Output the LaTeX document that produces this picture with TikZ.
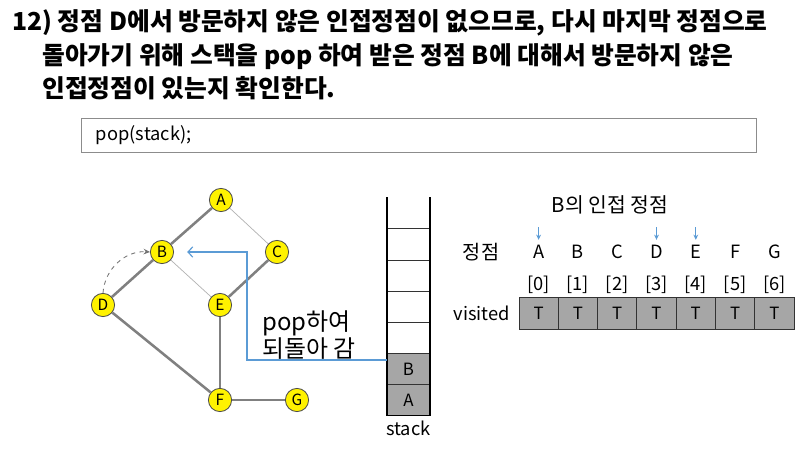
\documentclass[tikz,border=0pt]{standalone}
\usepackage{fontspec}
\setmainfont{Noto Sans CJK KR}
\usepackage{tikz}
\usetikzlibrary{arrows.meta,calc,positioning}
\definecolor{linkblue}{RGB}{91,155,213}
\definecolor{cellgray}{RGB}{166,166,166}
\definecolor{edgegray}{RGB}{128,128,128}

\begin{document}
\begin{tikzpicture}[x=0.025cm,y=-0.025cm,
  vertex/.style={circle,draw=black!70,fill=yellow,line width=0.6pt,minimum size=0.58cm,inner sep=0pt,font=\fontsize{11}{11}\selectfont},
  tree edge/.style={draw=edgegray,line width=1.8pt},
  back edge/.style={draw=black!30,line width=0.5pt},
  slotbox/.style={draw=black!80,line width=0.6pt,fill=cellgray,minimum width=1.075cm,minimum height=0.79cm,inner sep=0pt,font=\fontsize{12}{12}\selectfont},
  flagbox/.style={draw=black!80,line width=0.6pt,fill=cellgray,minimum width=0.98cm,minimum height=0.8cm,inner sep=0pt,font=\fontsize{12}{12}\selectfont},
  label text/.style={inner sep=0pt,font=\fontsize{13}{13}\selectfont},
  title text/.style={anchor=base west,inner sep=0pt,font=\fontsize{17.6}{17.6}\selectfont\bfseries}]
  \useasboundingbox[fill=white] (0,0) rectangle (805,449);

  % title
  \node[title text] (title1) at (12,30) {12) 정점 D에서 방문하지 않은 인접정점이 없으므로, 다시 마지막 정점으로};
  \node[title text] (title2) at (42,64) {돌아가기 위해 스택을 pop 하여 받은 정점 B에 대해서 방문하지 않은};
  \node[title text] (title3) at (42,97) {인접정점이 있는지 확인한다.};

  % code line
  \node[draw=black!45,line width=0.6pt,minimum height=0.85cm,inner xsep=0.35cm,text width=16.15cm,align=left,
    font=\fontsize{13}{13}\selectfont] (codebox) at (419,135) {pop(stack);};

  % graph
  \node[vertex] (A) at (221,200) {A};
  \node[vertex] (B) at (162,252) {B};
  \node[vertex] (C) at (277,252) {C};
  \node[vertex] (D) at (103,305) {D};
  \node[vertex] (E) at (220,305) {E};
  \node[vertex] (F) at (220,400) {F};
  \node[vertex] (G) at (297,400) {G};
  \draw[tree edge] (A) -- (B);
  \draw[tree edge] (B) -- (D);
  \draw[tree edge] (C) -- (E);
  \draw[tree edge] (D) -- (F);
  \draw[tree edge] (E) -- (F);
  \draw[tree edge] (F) -- (G);
  \draw[back edge] (A) -- (C);
  \draw[back edge] (B) -- (E);
  \draw[black!55,dashed,line width=0.6pt,-{Stealth[length=1.6mm,width=1.4mm]}] (D.north) to[bend left=45] (B.west);

  % stack
  \node[slotbox] (slotB) at (408.5,369) {B};
  \node[slotbox] (slotA) at (408.5,400) {A};
  \foreach \y in {228,260,291,322}
    \draw[black!80,line width=0.6pt] (387,\y) -- (430,\y);
  \draw[line width=1.4pt] (387,197) -- (387,415.5) -- (430,415.5) -- (430,197);
  \node[label text,below=0.12cm of slotA] (stacklabel) {stack};

  % pop back to B
  \coordinate (turn) at (247,360);
  \draw[linkblue,line width=0.8pt,-{Straight Barb[length=0.12cm,width=0.26cm]}]
    (slotB.west|-turn) -- (turn) |- ([xshift=0.33cm]B.east);
  \node[anchor=west,align=left,inner sep=0pt,font=\fontsize{17}{19}\selectfont] (popnote) at (262,335) {pop하여\\되돌아 감};

  % visited array
  \node[label text,font=\fontsize{14.5}{14.5}\selectfont] (adjnote) at (610,205) {B의 인접 정점};
  \node[label text,font=\fontsize{14}{14}\selectfont] (vtxnote) at (481,252) {정점};
  \node[label text,anchor=east] (visnote) at (510,313) {visited};
  \foreach \l [count=\i from 0] in {A,B,C,D,E,F,G} {
    \node[label text] (v\l) at (538.6+39.3*\i,252) {\l};
    \node[label text] (idx\i) at (538.6+39.3*\i,285) {[\i]};
    \node[flagbox] (flag\i) at (538.6+39.3*\i,313) {T};
  }
  \foreach \l in {A,D,E}
    \draw[linkblue,line width=0.7pt,-{Stealth[length=1.3mm,width=1.2mm]}] ([yshift=0.45cm]v\l.north) -- ([yshift=0.13cm]v\l.north);
\end{tikzpicture}
\end{document}
